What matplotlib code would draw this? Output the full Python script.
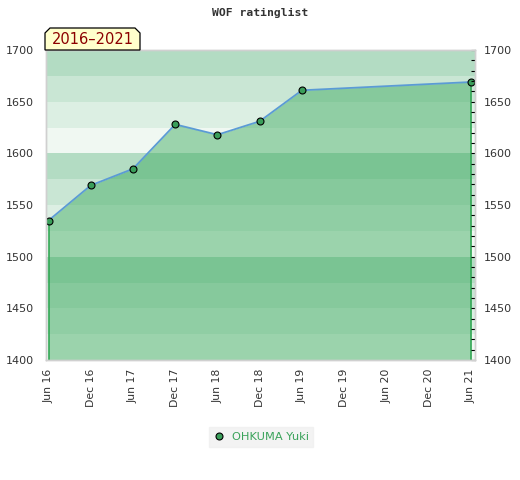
import matplotlib
matplotlib.use("Agg")
import matplotlib.pyplot as plt
from matplotlib.patches import Polygon
from matplotlib.lines import Line2D

# Data
tick_labels = ["Jun 16", "Dec 16", "Jun 17", "Dec 17", "Jun 18", "Dec 18",
               "Jun 19", "Dec 19", "Jun 20", "Dec 20", "Jun 21"]
point_pos = [0, 1, 2, 3, 4, 5, 6, 10]          # half-year index of each rating list
ratings = [1535, 1569, 1585, 1628, 1618, 1631, 1661, 1669]
player = "OHKUMA Yuki"
period = "2016\u20132021"
title = "WOF ratinglist"

band_colors = ["#f0f8f2", "#dcefe3", "#c9e6d4", "#b3dcc3"]  # 0-25, 25-50, 50-75, 75-100 within each hundred

fig = plt.figure(figsize=(5.2, 4.8), dpi=100)
ax = fig.add_axes([46/520, 1-360/480, 429/520, 310/480])

ymin, ymax = 1400, 1700
for lo in range(ymin, ymax, 25):
    ax.axhspan(lo, lo + 25, color=band_colors[(lo % 100)//25], lw=0, zorder=0)

ax.fill_between(point_pos, ratings, ymin, color="#37a85b", alpha=0.46, lw=0, zorder=1)
ax.vlines([point_pos[0], point_pos[-1]], ymin, [ratings[0], ratings[-1]],
          color="#34a856", lw=1.2, zorder=2)
ax.plot(point_pos, ratings, color="#5b9bd5", lw=1.3, zorder=3)
ax.plot(point_pos, ratings, ls="none", marker="o", ms=5, mfc="#3a9e5a",
        mec="black", mew=0.8, zorder=4)

ax.set_xlim(-0.06, 10.1)
ax.set_ylim(ymin, ymax)
ax.set_xticks(range(len(tick_labels)))
ax.set_xticklabels(tick_labels, rotation=90, fontsize=7.8, color="#333333")
ax.tick_params(axis="x", length=0, pad=6)
ax.set_yticks(range(ymin, ymax + 1, 50))
ax.tick_params(axis="y", length=0, labelsize=8, labelcolor="#333333", pad=9,
               labelleft=True, labelright=False)

ax2 = ax.twinx()
ax2.set_ylim(ymin, ymax)
ax2.set_yticks(range(ymin, ymax + 1, 50))
ax2.set_yticks(range(ymin, ymax + 1, 10), minor=True)
ax2.tick_params(axis="y", which="major", direction="in", length=3, width=0.8,
                labelsize=8, labelcolor="#333333", pad=6, color="black")
ax2.tick_params(axis="y", which="minor", direction="in", length=3, width=0.8, color="black")

for a in (ax, ax2):
    for s in a.spines.values():
        s.set_color("#d0d0d0")
        s.set_linewidth(1.0)

fig.text(260/520, 1-13/480, title, ha="center", va="center", fontsize=8.2,
         family="DejaVu Sans Mono", fontweight="bold", color="#333333")

# period label box with chamfered top corners
x0, x1, y0, y1, c = 45/520, 140/520, 1-50/480, 1-28/480, 5
cx, cy = c/520, c/480
box = Polygon([(x0, y0), (x0, y1 - cy), (x0 + cx, y1), (x1 - cx, y1), (x1, y1 - cy), (x1, y0)],
              closed=True, transform=fig.transFigure, facecolor="#ffffcc",
              edgecolor="black", lw=0.9, zorder=5)
fig.patches.append(box)
fig.text((x0 + x1)/2, (y0 + y1)/2 - 0.002, period, ha="center", va="center",
         fontsize=10.5, color="#8b0000", zorder=6)

handle = Line2D([], [], ls="none", marker="o", ms=5, mfc="#3a9e5a", mec="black", mew=0.8)
leg = fig.legend([handle], [player], loc="center", bbox_to_anchor=(261/520, 1-437/480),
                 frameon=True, fontsize=8.2, handlelength=1.0, handletextpad=0.6,
                 borderpad=0.4, fancybox=False)
leg.get_frame().set_facecolor("#f0f0f0")
leg.get_frame().set_edgecolor("#f0f0f0")
for t in leg.get_texts():
    t.set_color("#3aa35a")

fig.savefig("out.png", dpi=100)
